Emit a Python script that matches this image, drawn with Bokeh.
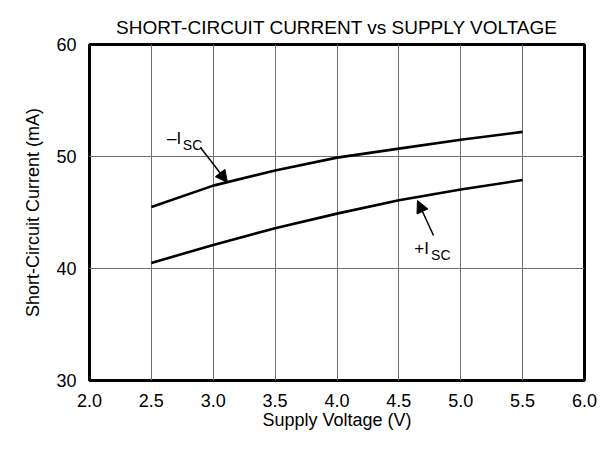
from bokeh.plotting import figure
from bokeh.models import Range1d, FixedTicker, Arrow, NormalHead
from bokeh.core.properties import value
from bokeh.embed import file_html
from bokeh.resources import INLINE

voltage = [2.5, 3.0, 3.5, 4.0, 4.5, 5.0, 5.5]
neg_isc = [45.5, 47.4, 48.75, 49.9, 50.7, 51.5, 52.2]
pos_isc = [40.5, 42.1, 43.6, 44.9, 46.1, 47.05, 47.9]
x_ticks = [2.0, 2.5, 3.0, 3.5, 4.0, 4.5, 5.0, 5.5, 6.0]
y_ticks = [30, 40, 50, 60]

FONT = "Liberation Sans"

p = figure(frame_width=495, frame_height=336, output_backend="svg", toolbar_location=None,
           x_range=Range1d(2.0, 6.0), y_range=Range1d(30, 60),
           min_border_left=89, min_border_right=15, min_border_top=44, min_border_bottom=55,
           title="SHORT-CIRCUIT CURRENT vs SUPPLY VOLTAGE")
p.title.align = "center"
p.title.text_font = FONT
p.title.text_font_size = "19px"
p.title.text_font_style = "normal"
p.title.text_color = "black"
p.title.offset = 0
p.title.standoff = 13

p.outline_line_color = "black"
p.outline_line_width = 3
p.outline_line_alpha = 1

for ax in (p.xaxis[0], p.yaxis[0]):
    ax.axis_line_color = None
    ax.major_tick_line_color = None
    ax.minor_tick_line_color = None
    ax.major_tick_out = 0
    ax.major_tick_in = 0
    ax.major_label_text_font = FONT
    ax.major_label_text_font_size = "18px"
    ax.major_label_text_color = "black"
    ax.axis_label_text_font = FONT
    ax.axis_label_text_font_size = "18px"
    ax.axis_label_text_font_style = "normal"
    ax.axis_label_text_color = "black"

p.xaxis.ticker = FixedTicker(ticks=x_ticks)
p.yaxis.ticker = FixedTicker(ticks=y_ticks)
p.xaxis.major_label_overrides = {t: f"{t:.1f}" for t in x_ticks}
p.xaxis.major_label_standoff = 13
p.yaxis.major_label_standoff = 13
p.xaxis.axis_label = "Supply Voltage (V)"
p.xaxis.axis_label_standoff = 0
p.yaxis.axis_label = "Short-Circuit Current (mA)"
p.yaxis.axis_label_standoff = 10

p.grid.grid_line_color = "#707070"
p.grid.grid_line_width = 1
p.grid.grid_line_alpha = 1

p.line(voltage, neg_isc, line_color="black", line_width=2.6)
p.line(voltage, pos_isc, line_color="black", line_width=2.6)

# annotations
p.text(x=[2.627], y=[51.58], text=["–I"], text_font=value(FONT), text_font_size="17px",
       text_align="left", text_baseline="alphabetic", text_color="black")
p.text(x=[2.754], y=[51.07], text=["SC"], text_font=value(FONT), text_font_size="14px",
       text_align="left", text_baseline="alphabetic", text_color="black")
p.text(x=[4.625], y=[41.76], text=["+I"], text_font=value(FONT), text_font_size="17px",
       text_align="left", text_baseline="alphabetic", text_color="black")
p.text(x=[4.76], y=[41.22], text=["SC"], text_font=value(FONT), text_font_size="14px",
       text_align="left", text_baseline="alphabetic", text_color="black")

p.add_layout(Arrow(end=NormalHead(size=12, fill_color="black", line_color="black"),
                   x_start=2.897, y_start=50.8, x_end=3.115, y_end=47.68,
                   line_color="black", line_width=1.5))
p.add_layout(Arrow(end=NormalHead(size=12, fill_color="black", line_color="black"),
                   x_start=4.78, y_start=42.95, x_end=4.65, y_end=46.07,
                   line_color="black", line_width=1.5))

open("out.html", "w").write(file_html(p, INLINE))
